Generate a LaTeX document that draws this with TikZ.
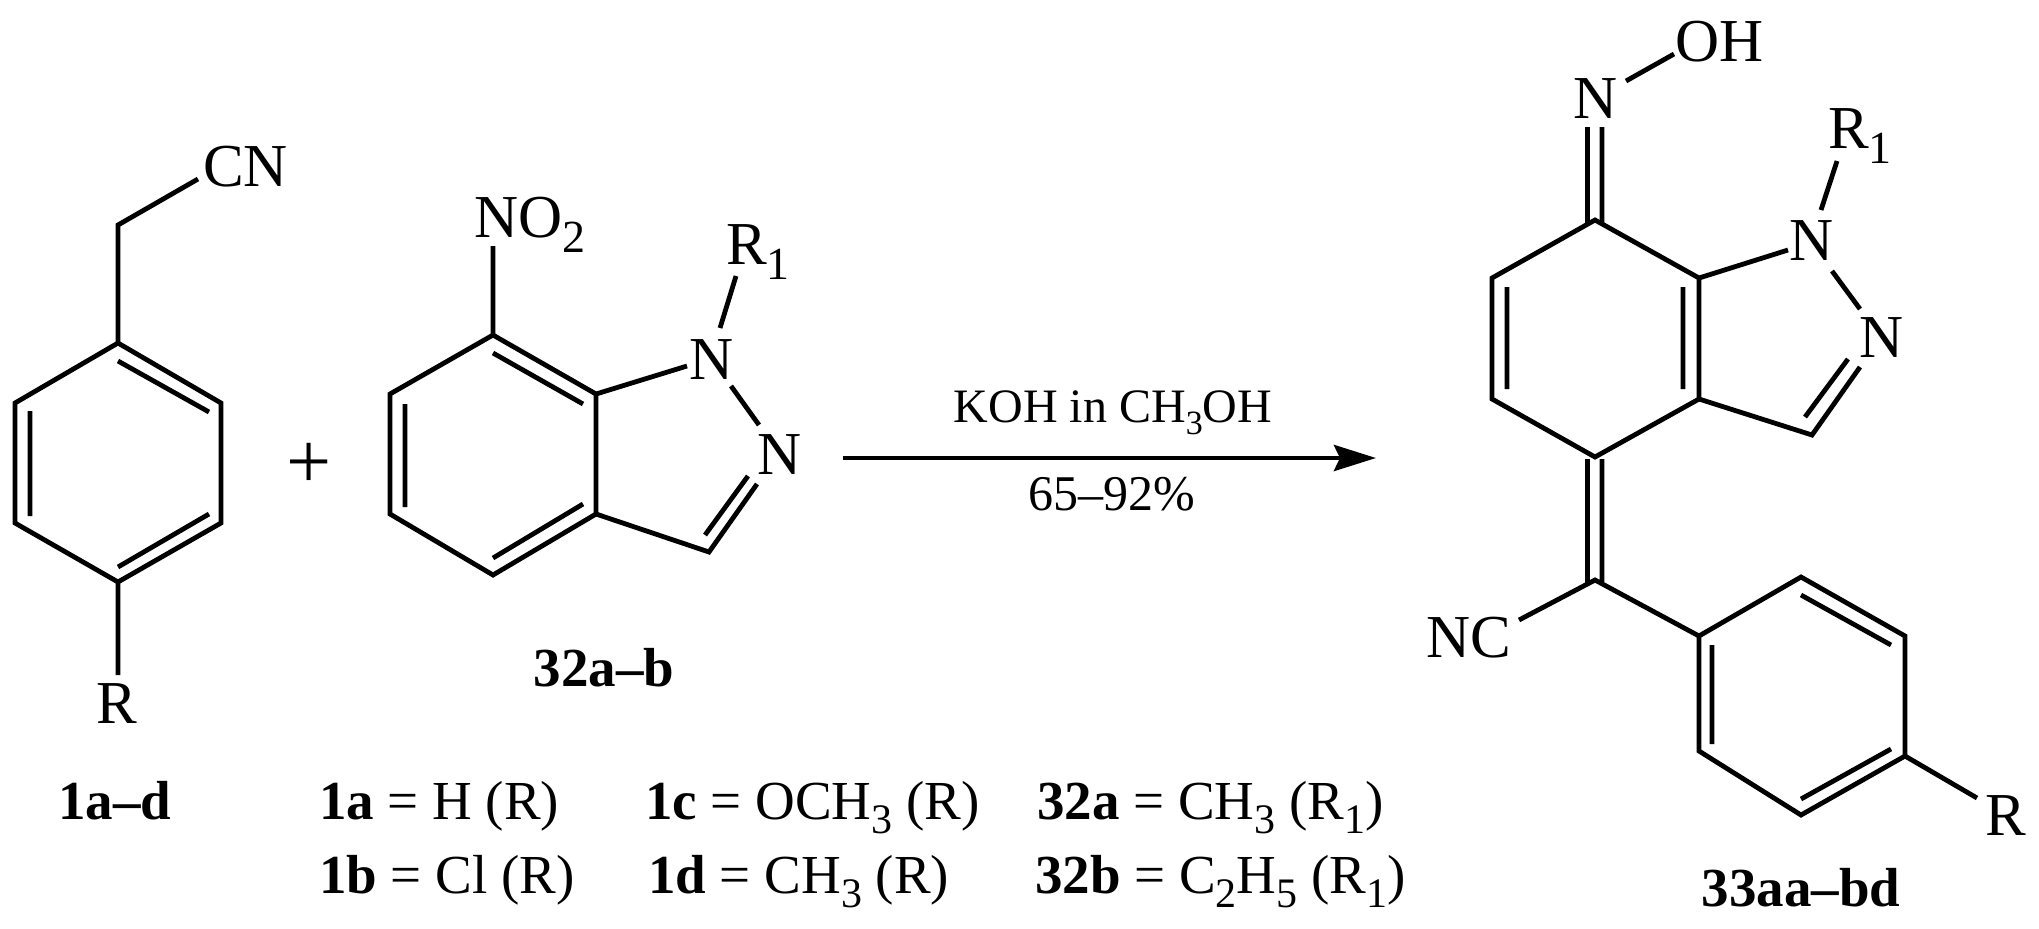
\documentclass[tikz,border=0pt]{standalone}
\usepackage{fontspec}
\setmainfont{Liberation Serif}
\usetikzlibrary{arrows.meta}
\newcommand{\lowtext}[2]{\raisebox{-.26em}{\fontsize{#1}{#1}\selectfont #2}}
\newcommand{\sst}[1]{\lowtext{23}{#1}}
\newcommand{\slb}[1]{\lowtext{21}{#1}}
\newcommand{\sar}[1]{\lowtext{17}{#1}}
\tikzset{
  bond/.style={line width=2.4pt,line join=miter,line cap=butt},
  atom/.style={inner sep=0pt,outer sep=0pt,font=\fontsize{30.5}{30.5}\selectfont},
  cpd/.style={inner sep=0pt,outer sep=0pt,font=\fontsize{27.5}{27.5}\selectfont\bfseries},
  legend/.style={inner sep=0pt,outer sep=0pt,anchor=base west,font=\fontsize{27.5}{27.5}\selectfont},
  cond/.style={inner sep=0pt,outer sep=0pt,anchor=base,font=\fontsize{24}{24}\selectfont},
  rxn/.style={line width=2.4pt,-{Stealth[length=21pt,width=13pt,inset=3pt]}}
}
\begin{document}
\begin{tikzpicture}[x=.5pt,y=-.5pt]
\useasboundingbox (0,0) rectangle (2039,928);
% ---- phenylacetonitrile
\foreach \n/\p in {a1/{118,343},a2/{221,403},a3/{221,523},a4/{118,582},a5/{15,523},a6/{15,403},
  ach/{118,225},acn/{198,179},ar/{118,675},
  ai1/{118,361},ai2/{209,412},ai3/{209,514},ai4/{118,567},ai5/{30,411},ai6/{30,516}}
  {\coordinate (\n) at (\p);}
\draw[bond] (a1)--(a2)--(a3)--(a4)--(a5)--(a6)--cycle;
\draw[bond] (acn)--(ach)--(a1) (a4)--(ar) (ai1)--(ai2) (ai3)--(ai4) (ai5)--(ai6);
\node[atom,anchor=base west] (CNa) at (203,186) {CN};
\node[atom,anchor=base] (Ra) at (117,723) {R};
\node[atom,anchor=base,font=\fontsize{40}{40}\selectfont] (plus) at (309,488) {+};
\node[cpd,anchor=base] (l1) at (115,819) {1a–d};
% ---- nitroindazole
\foreach \n/\p in {b7/{493,335},b7a/{596,394},b3a/{596,514},b4/{493,575},b5/{390,514},b6/{390,394},
  b3/{709,552},bno/{493,246},br1/{736,276},br2/{720,328},bn1/{687,366},
  bnn1/{731,386},bnn2/{759,425},bcn/{757,484},bi7/{493,353},bi7a/{583,404},bi3a/{583,504},bi4/{493,558},
  bi5/{405,507},bi6/{405,404},bd1/{748,476},bd2/{705,535}}
  {\coordinate (\n) at (\p);}
\draw[bond] (b7)--(b7a)--(b3a)--(b4)--(b5)--(b6)--cycle;
\draw[bond] (bno)--(b7) (bn1)--(b7a) (b3a)--(b3)--(bcn) (br1)--(br2) (bnn1)--(bnn2)
  (bi7)--(bi7a) (bi3a)--(bi4) (bi5)--(bi6) (bd1)--(bd2);
\node[atom,anchor=base west] (NO) at (474,237) {NO\sst{2}};
\node[atom,anchor=base west] (R1b) at (726,264) {R\sst{1}};
\node[atom,anchor=base] (N1b) at (712,379) {N};
\node[atom,anchor=base] (N2b) at (780,474) {N};
\node[cpd,anchor=base] (l32) at (604,686) {32a–b};
% ---- arrow
\coordinate (as) at (843,458);
\coordinate (ae) at (1376,458);
\draw[rxn] (as)--(ae);
\node[cond] (c1) at (1113,422) {KOH in CH\sar{3}OH};
\node[cond,font=\fontsize{25}{25}\selectfont] (c2) at (1112,510) {65–92\%};
% ---- product
\foreach \n/\p in {c7/{1595,220},c7a/{1699,278},c3a/{1699,399},c4/{1595,457},c5/{1492,399},c6/{1492,278},
  c3/{1812,435},cx/{1595,580},cnc/{1519,620},cp1/{1699,636},cp2/{1801,577},cp3/{1905,636},cp4/{1905,756},
  cp5/{1801,815},cp6/{1699,751},crb/{1977,798},coh1/{1626,81},coh2/{1674,54},
  cr1/{1837,161},cr2/{1821,210},cn1/{1788,250},cnn1/{1832,271},cnn2/{1860,309},cn2/{1860,367},
  cd1/{1848,359},cd2/{1805,417},
  cN1/{1587.5,127},cN2/{1587.5,224},cN3/{1602,127},cN4/{1602,224},
  cX1/{1587.5,459},cX2/{1587.5,582},cX3/{1602,459},cX4/{1602,582},
  ci6/{1507,287},ci5/{1507,389},ci7a/{1683,287},ci3a/{1683,389},
  cq1/{1801,595},cq2/{1891,645},cq3/{1891,749},cq4/{1801,799},cq5/{1712,744},cq6/{1712,645}}
  {\coordinate (\n) at (\p);}
\draw[bond] (c7)--(c7a)--(c3a)--(c4)--(c5)--(c6)--cycle;
\draw[bond] (cp1)--(cp2)--(cp3)--(cp4)--(cp5)--(cp6)--cycle;
\draw[bond] (cn1)--(c7a) (c3a)--(c3)--(cn2) (cnn1)--(cnn2) (cr1)--(cr2) (coh1)--(coh2)
  (cd1)--(cd2) (cN1)--(cN2) (cN3)--(cN4) (cX1)--(cX2) (cX3)--(cX4)
  (cnc)--(cx)--(cp1) (cp4)--(crb)
  (ci6)--(ci5) (ci7a)--(ci3a) (cq1)--(cq2) (cq3)--(cq4) (cq5)--(cq6);
\node[atom,anchor=base] (Nox) at (1596,118) {N};
\node[atom,anchor=base west] (OH) at (1675,61) {OH};
\node[atom,anchor=base west] (R1c) at (1828,148) {R\sst{1}};
\node[atom,anchor=base] (N1c) at (1812,260) {N};
\node[atom,anchor=base] (N2c) at (1882,357) {N};
\node[atom,anchor=base west] (NC) at (1426,657) {NC};
\node[atom,anchor=base] (Rc) at (2006,835) {R};
\node[cpd,anchor=base] (l33) at (1801,906) {33aa–bd};
% ---- legend
\node[legend] (t1) at (319,819) {\textbf{1a} = H (R)};
\node[legend] (t2) at (319,893) {\textbf{1b} = Cl (R)};
\node[legend] (t3) at (645,819) {\textbf{1c} = OCH\slb{3} (R)};
\node[legend] (t4) at (648,893) {\textbf{1d} = CH\slb{3} (R)};
\node[legend] (t5) at (1037,819) {\textbf{32a} = CH\slb{3} (R\slb{1})};
\node[legend] (t6) at (1035,893) {\textbf{32b} = C\slb{2}H\slb{5} (R\slb{1})};
\end{tikzpicture}
\end{document}
